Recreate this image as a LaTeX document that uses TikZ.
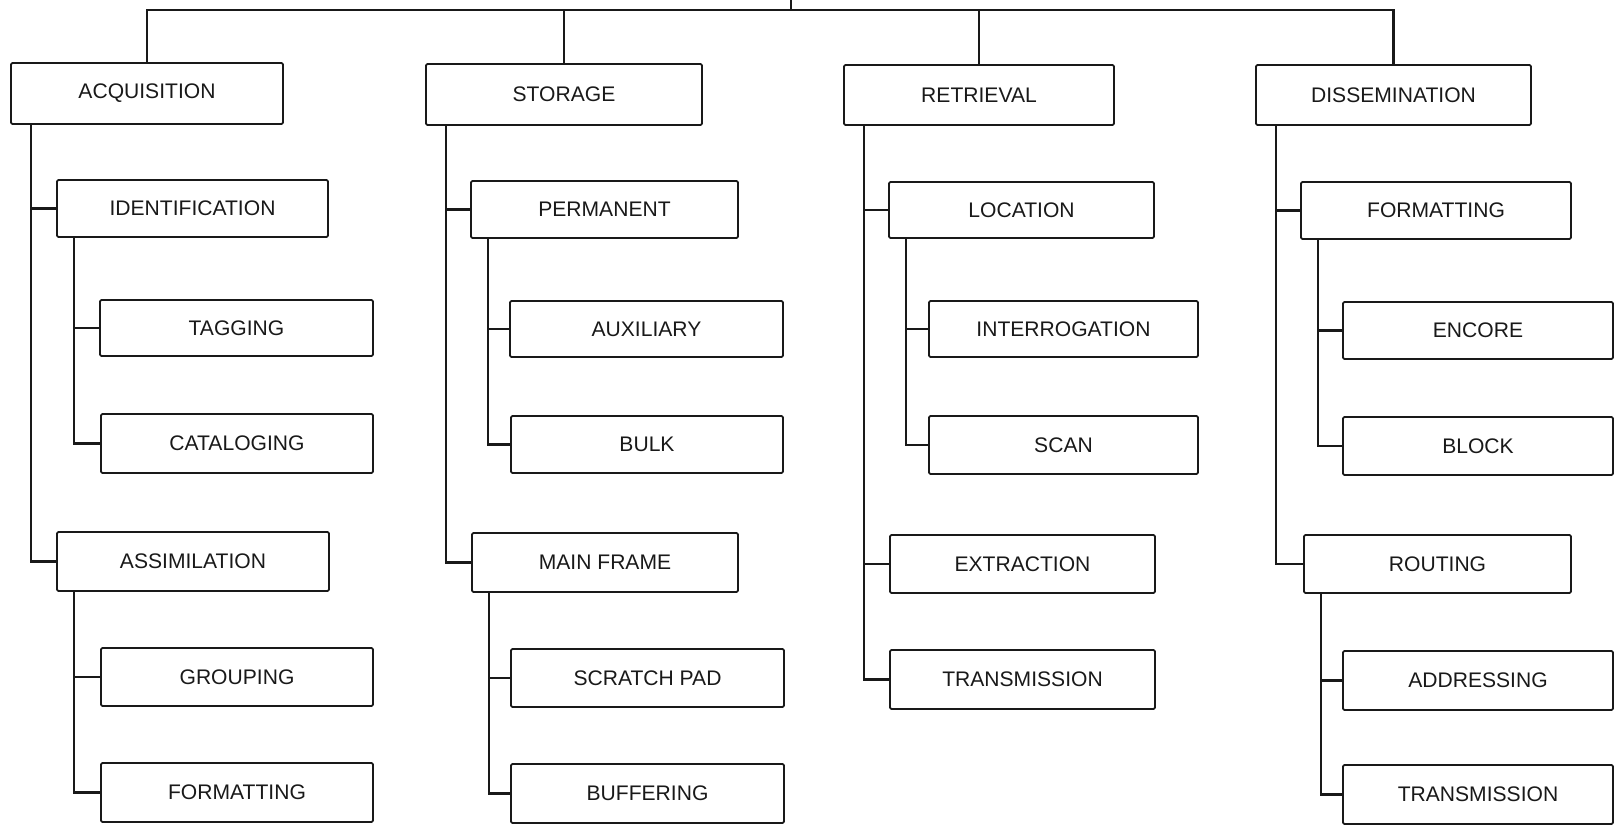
\documentclass[tikz,border=0pt]{standalone}
\usepackage{fontspec}
\setmainfont{Liberation Sans}
\usetikzlibrary{calc}
\newcommand\bx[6]{\node[bx, minimum width={(#4-#2)*0.02cm}, minimum height={(#5-#3)*0.02cm}] (#1) at ({(#2+#4)/2},{(#3+#5)/2}) {#6};}
\tikzset{
  bx/.style={draw=black!90, line width=1pt, rounded corners=0.8pt, inner sep=0pt, font=\fontsize{12}{14}\selectfont, text=black!90},
  conn/.style={draw=black!90, line width=1.3pt}
}
\begin{document}
\begin{tikzpicture}[x=0.02cm, y=-0.02cm]
\useasboundingbox (0,0) rectangle (1615,826);
% Acquisition
\bx{acq}{11}{63}{283}{124}{ACQUISITION}
\bx{ident}{57}{180}{328}{237}{IDENTIFICATION}
\bx{tag}{100}{300}{373}{356}{TAGGING}
\bx{cat}{101}{414}{373}{473}{CATALOGING}
\bx{assim}{57}{532}{329}{591}{ASSIMILATION}
\bx{group}{101}{648}{373}{706}{GROUPING}
\bx{fmtA}{101}{763}{373}{822}{FORMATTING}
% Storage
\bx{sto}{426}{64}{702}{125}{STORAGE}
\bx{perm}{471}{181}{738}{238}{PERMANENT}
\bx{aux}{510}{301}{783}{357}{AUXILIARY}
\bx{bulk}{511}{416}{783}{473}{BULK}
\bx{main}{472}{533}{738}{592}{MAIN FRAME}
\bx{scratch}{511}{649}{784}{707}{SCRATCH PAD}
\bx{buf}{511}{764}{784}{823}{BUFFERING}
% Retrieval
\bx{ret}{844}{65}{1114}{125}{RETRIEVAL}
\bx{loc}{889}{182}{1154}{238}{LOCATION}
\bx{inter}{929}{301}{1198}{357}{INTERROGATION}
\bx{scan}{929}{416}{1198}{474}{SCAN}
\bx{extr}{890}{535}{1155}{593}{EXTRACTION}
\bx{transR}{890}{650}{1155}{709}{TRANSMISSION}
% Dissemination
\bx{diss}{1256}{65}{1531}{125}{DISSEMINATION}
\bx{fmtD}{1301}{182}{1571}{239}{FORMATTING}
\bx{enc}{1343}{302}{1613}{359}{ENCORE}
\bx{block}{1343}{417}{1613}{475}{BLOCK}
\bx{rout}{1304}{535}{1571}{593}{ROUTING}
\bx{addr}{1343}{651}{1613}{710}{ADDRESSING}
\bx{transD}{1343}{765}{1613}{824}{TRANSMISSION}
% top bus
\coordinate (root) at (791,0);
\coordinate (bus) at (791,10);
\draw[conn] (root) -- (bus);
\draw[conn] (acq.north) |- (bus) -| (diss.north);
\draw[conn] (sto.north) -- (sto.north |- bus);
\draw[conn] (ret.north) -- (ret.north |- bus);
% branches
\foreach \p/\c in {acq/ident, acq/assim, sto/perm, sto/main, ret/loc, ret/extr, ret/transR, diss/fmtD, diss/rout}{
  \draw[conn] ($(\p.south west)+(21,0)$) |- (\c.west);
}
\foreach \p/\c in {ident/tag, ident/cat, assim/group, assim/fmtA, perm/aux, perm/bulk, main/scratch, main/buf, loc/inter, loc/scan, fmtD/enc, fmtD/block, rout/addr, rout/transD}{
  \draw[conn] ($(\p.south west)+(18,0)$) |- (\c.west);
}
\end{tikzpicture}
\end{document}
